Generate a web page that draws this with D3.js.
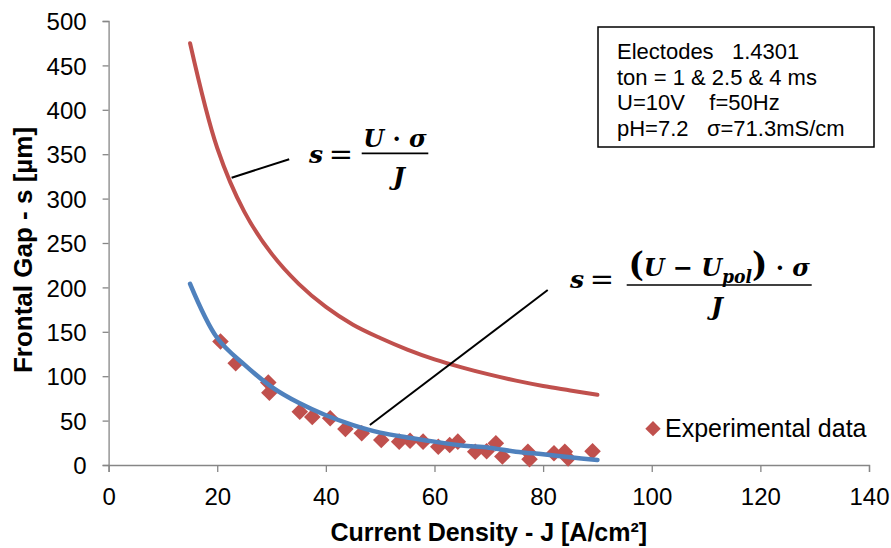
<!DOCTYPE html>
<html>
<head>
<meta charset="utf-8">
<script src="https://cdn.jsdelivr.net/npm/d3@7"></script>
<style>
  html, body { margin: 0; padding: 0; background: #fff; }
  svg { display: block; }
</style>
</head>
<body>
<svg id="chart" width="891" height="548"></svg>
<script>
// Axis ticks
const xTicks = [0, 20, 40, 60, 80, 100, 120, 140];
const yTicks = [0, 50, 100, 150, 200, 250, 300, 350, 400, 450, 500];

// Model curves, sampled along current density J [A/cm²]
const modelJ    = [15, 20, 25, 30, 35, 40, 45, 50, 55, 60, 65, 70, 75, 80, 85, 90];
const gapSimple = [475, 357, 285, 238, 204, 178, 158, 143, 130, 119, 110, 102, 95, 89, 84, 79];
const gapPolar  = [204, 143, 113, 88, 70, 56, 45, 36.5, 31, 26.3, 22, 19.5, 15, 12, 8.7, 5.6];

// Measured frontal gap
const expJ = [20.6, 23.4, 29.4, 29.6, 35.2, 37.5, 40.8, 43.6, 46.6, 50.2, 53.5, 55.5, 57.9, 60.7,
              62.8, 64.3, 67.5, 69.6, 71.3, 72.5, 77.2, 77.5, 82.0, 84.0, 84.6, 89.1];
const expS = [139, 114.5, 93, 81.5, 60, 54, 52.6, 40.5, 35.7, 28.2, 26.3, 27.4, 26.3, 20.6,
              22.5, 26.3, 15, 15.5, 24.4, 9.5, 15, 6.4, 13.2, 15, 7.5, 15.5];

// Process parameters shown in the info box
const infoLines = ["Electodes   1.4301", "ton = 1 & 2.5 & 4 ms", "U=10V    f=50Hz", "pH=7.2   σ=71.3mS/cm"];
const legendLabel = "Experimental data";

const svg = d3.select("#chart");
const plotL = 108.6, plotR = 869, plotT = 21, plotB = 465;

const x = d3.scaleLinear().domain([0, 140]).range([plotL, plotR]);
const y = d3.scaleLinear().domain([0, 500]).range([plotB, plotT]);

const RED = "#C0504D", BLUE = "#4F81BD", AXIS = "#868686";
const sans = '"Liberation Sans", Arial, sans-serif';
const mathFont = '"DejaVu Serif", "Liberation Serif", serif';

// Axes
const xAxis = svg.append("g").attr("transform", `translate(0,${plotB})`)
  .call(d3.axisBottom(x).tickValues(xTicks).tickSize(7).tickPadding(0).tickFormat(d3.format("d")));
const yAxis = svg.append("g").attr("transform", `translate(${plotL},0)`)
  .call(d3.axisLeft(y).tickValues(yTicks).tickSize(6).tickPadding(0).tickFormat(d3.format("d")));
[xAxis, yAxis].forEach(g => {
  g.select(".domain").attr("stroke", AXIS).attr("stroke-width", 1.3);
  g.selectAll(".tick line").attr("stroke", AXIS).attr("stroke-width", 1.3);
  g.selectAll(".tick text").attr("fill", "#000").style("font-size", "24px").style("font-family", sans);
});
xAxis.selectAll(".tick text").attr("y", 40).attr("dy", null);
yAxis.selectAll(".tick text").attr("x", -22).attr("dy", "0.36em");

// Axis titles
svg.append("text")
  .attr("x", (plotL + plotR) / 2).attr("y", 541)
  .attr("text-anchor", "middle")
  .style("font-family", sans).style("font-size", "25px").style("font-weight", "bold")
  .text("Current Density - J [A/cm²]");
svg.append("text")
  .attr("transform", `translate(32,250) rotate(-90)`)
  .attr("text-anchor", "middle")
  .style("font-family", sans).style("font-size", "26px").style("font-weight", "bold")
  .text("Frontal Gap - s [µm]");

// Model curves
const line = (ys) => d3.line()
  .x((d, i) => x(modelJ[i]))
  .y((d, i) => y(ys[i]))
  .curve(d3.curveCatmullRom.alpha(0.5))(modelJ);

svg.append("path").attr("d", line(gapSimple))
  .attr("fill", "none").attr("stroke", RED).attr("stroke-width", 4).attr("stroke-linecap", "round");

// Experimental points (diamonds)
const diamond = d3.symbol().type(d3.symbolDiamond2).size(175);
svg.append("g").selectAll("path")
  .data(expJ.map((j, i) => [j, expS[i]]))
  .join("path")
  .attr("d", diamond)
  .attr("transform", d => `translate(${x(d[0])},${y(d[1])})`)
  .attr("fill", RED);

svg.append("path").attr("d", line(gapPolar))
  .attr("fill", "none").attr("stroke", BLUE).attr("stroke-width", 4.5).attr("stroke-linecap", "round");

// Leader lines from the formulas to their curves
const leaders = [
  [[22.65, 323.5], [33.25, 344.3]],
  [[48.1, 45], [80.85, 197]]
];
svg.append("g").selectAll("line").data(leaders).join("line")
  .attr("x1", d => x(d[0][0])).attr("y1", d => y(d[0][1]))
  .attr("x2", d => x(d[1][0])).attr("y2", d => y(d[1][1]))
  .attr("stroke", "#000").attr("stroke-width", 2);

// Formula: s = numerator / J, laid out around a fraction bar
function formula(o) {
  const g = svg.append("g")
    .style("font-family", mathFont).style("font-weight", "bold").style("font-style", "italic")
    .style("font-size", "25px").attr("fill", "#000");
  g.append("text").attr("x", o.sX).attr("y", o.sY).attr("text-anchor", "middle").text("s");
  g.append("text").attr("x", o.eqX).attr("y", o.sY + 1).attr("text-anchor", "middle")
    .style("font-style", "normal").style("font-size", "29px").style("font-weight", "normal").text("=");
  g.append("line").attr("x1", o.barX1).attr("x2", o.barX2).attr("y1", o.barY).attr("y2", o.barY)
    .attr("stroke", "#000").attr("stroke-width", 1.7);
  const cx = (o.barX1 + o.barX2) / 2;
  const num = g.append("text").attr("x", 0).attr("y", 0).attr("text-anchor", "middle");
  o.parts.forEach(p => {
    const t = num.append("tspan").text(p.t);
    if (p.normal) t.style("font-style", "normal");
    if (p.light) t.style("font-weight", "normal");
    if (p.size) t.style("font-size", p.size + "px");
    if (p.dy) t.attr("dy", p.dy);
  });
  const w = num.node().getBBox().width;
  const sx = Math.max(0.8, Math.min(1.2, o.numW / w));
  num.attr("transform", `translate(${cx},${o.numY}) scale(${sx},1)`);
  g.append("text").attr("x", o.jX).attr("y", o.jY).attr("text-anchor", "middle").text("J");
}

formula({
  sX: 316, sY: 163.3, eqX: 341, barX1: 361.7, barX2: 428.3, barY: 153.3,
  numY: 146.7, numW: 64, jX: 399, jY: 185,
  parts: [{ t: "U" }, { t: " · ", normal: true }, { t: "σ" }]
});
formula({
  sX: 577, sY: 288.3, eqX: 602, barX1: 626.7, barX2: 811.7, barY: 285,
  numY: 276, numW: 182, jX: 717, jY: 315,
  parts: [{ t: "(", normal: true, size: 34 }, { t: "U" }, { t: " − ", normal: true }, { t: "U" },
          { t: "pol", size: 18, dy: 7 }, { t: ")", normal: true, size: 34, dy: -7 },
          { t: " · ", normal: true }, { t: "σ" }]
});

// Info box
const box = svg.append("g");
box.append("rect").attr("x", 598).attr("y", 27).attr("width", 276).attr("height", 120)
  .attr("fill", "#fff").attr("stroke", "#000").attr("stroke-width", 1.5);
box.selectAll("text").data(infoLines).join("text")
  .attr("x", 617).attr("y", (d, i) => 59 + i * 25.5)
  .style("font-family", sans).style("font-size", "22px").attr("fill", "#000")
  .style("white-space", "pre")
  .text(d => d);

// Legend
const leg = svg.append("g");
leg.append("path").attr("d", d3.symbol().type(d3.symbolDiamond2).size(150))
  .attr("transform", "translate(653,428.7)").attr("fill", RED);
leg.append("text").attr("x", 665).attr("y", 437)
  .style("font-family", sans).style("font-size", "25px").attr("fill", "#000")
  .text(legendLabel);
</script>
</body>
</html>
